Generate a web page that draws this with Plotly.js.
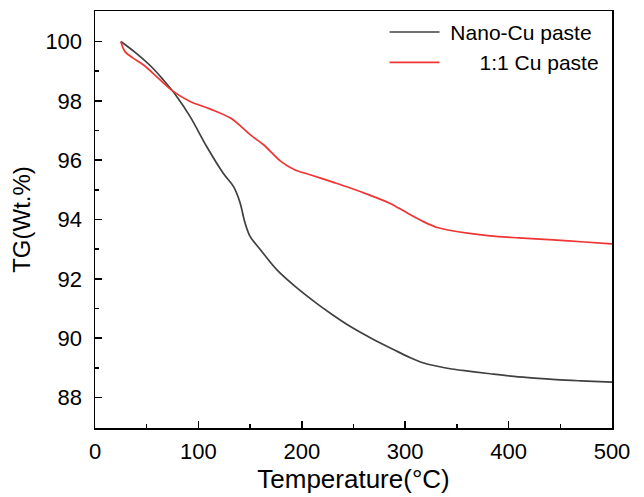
<!DOCTYPE html>
<html><head><meta charset="utf-8">
<script src="https://cdn.plot.ly/plotly-3.0.1.min.js"></script>
<style>html,body{margin:0;padding:0;background:#fff}</style>
</head><body><div id="chart" style="width:644px;height:497px"></div>
<script>
const nanoT = [25, 40, 56, 66, 79, 92, 108, 124, 134, 140, 145, 150, 160, 176, 195, 214, 230, 247, 268, 289, 305, 318, 330, 345, 363, 382, 405, 425, 446, 470, 500];
const nanoTG = [100, 99.6, 99.1, 98.71, 98.15, 97.47, 96.46, 95.56, 95.11, 94.6, 93.9, 93.43, 92.98, 92.3, 91.7, 91.18, 90.78, 90.39, 89.98, 89.61, 89.34, 89.16, 89.06, 88.96, 88.88, 88.8, 88.71, 88.65, 88.6, 88.56, 88.52];
const cuT = [25, 29, 37, 47, 63, 76, 92, 111, 131, 143, 150, 163, 180, 193, 208, 230, 247, 265, 285, 302, 318, 332, 344, 362, 382, 410, 443, 470, 500];
const cuTG = [100, 99.66, 99.44, 99.21, 98.71, 98.31, 97.98, 97.73, 97.42, 97.08, 96.86, 96.52, 95.95, 95.68, 95.51, 95.26, 95.06, 94.83, 94.55, 94.22, 93.92, 93.72, 93.63, 93.53, 93.45, 93.38, 93.31, 93.25, 93.18];
const names = ["\u00a0Nano-Cu paste", "\u00a0\u00a0\u00a0\u00a0\u00a0 1:1 Cu paste"];
const xTicks = [0, 100, 200, 300, 400, 500];
const yTicks = [88, 90, 92, 94, 96, 98, 100];

const F = 'Liberation Sans, Arial, sans-serif';
const traces = [
  {x: nanoT, y: nanoTG, name: names[0], mode: 'lines', line: {color: '#404040', width: 1.7, shape: 'spline', smoothing: 1}},
  {x: cuT, y: cuTG, name: names[1], mode: 'lines', line: {color: '#f03434', width: 1.7, shape: 'spline', smoothing: 1}}
];
const axisCommon = {
  showline: true, linecolor: '#000', linewidth: 1.5, mirror: true,
  ticks: 'inside', ticklen: 7, tickwidth: 1.5, tickcolor: '#000',
  showgrid: false, zeroline: false,
  tickfont: {family: F, size: 22, color: '#000'},
  minor: {ticks: 'inside', ticklen: 4, tickwidth: 1.5, tickcolor: '#000', showgrid: false}
};
const layout = {
  width: 644, height: 497,
  margin: {l: 95, r: 32, t: 11, b: 69},
  paper_bgcolor: '#fff', plot_bgcolor: '#fff',
  showlegend: true,
  legend: {x: 0.56, y: 0.998, xanchor: 'left', yanchor: 'top', bgcolor: 'rgba(0,0,0,0)',
    font: {family: F, size: 21, color: '#000'}, tracegroupgap: 0, itemwidth: 50},
  xaxis: Object.assign({}, axisCommon, {
    range: [0, 500], tickvals: xTicks, ticktext: xTicks.map(String), ticklabelstandoff: 3,
    minor: Object.assign({}, axisCommon.minor, {dtick: 50, tick0: 0}),
    title: {text: 'Temperature(°C)', font: {family: F, size: 26, color: '#000'}, standoff: 6}
  }),
  yaxis: Object.assign({}, axisCommon, {
    range: [86.97, 101.03], tickvals: yTicks, ticktext: yTicks.map(String), ticklabelstandoff: 7,
    minor: Object.assign({}, axisCommon.minor, {dtick: 1, tick0: 0}),
    title: {text: 'TG(Wt.%)', font: {family: F, size: 24, color: '#000'}, standoff: 8}
  })
};
Plotly.newPlot('chart', traces, layout, {staticPlot: true});
</script></body></html>
